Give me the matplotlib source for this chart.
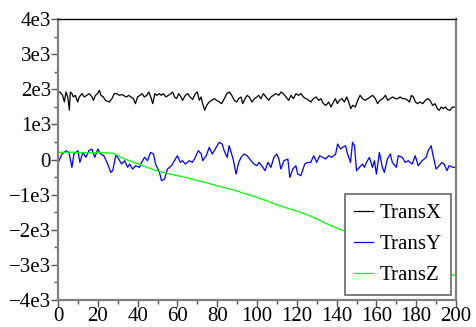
import numpy as np
import matplotlib
matplotlib.use('Agg')
import matplotlib.pyplot as plt
from matplotlib.ticker import FixedLocator, MultipleLocator

# TransX (black)
x_trans_x = [0, 1, 2.3, 3.2, 4, 4.9, 5.7, 6.2, 7, 7.7, 8.7, 9.9, 10.7, 12.1, 13.2, 14.4, 15.7,
             17.1, 17.8, 18.8, 19.9, 20.8, 21.6, 22.8, 23.8, 25.8, 27.1, 28.3, 29.5, 30.8, 32.2,
             33.3, 34.5, 35.5, 36.7, 37.9, 38.9, 40, 41.2, 42.2, 43.4, 44.6, 45.6, 46.6, 47.6,
             48.7, 49.7, 50.9, 51.9, 52.9, 54.3, 55.4, 56.8, 57.6, 58.6, 59.6, 60.6, 61.8, 62.6,
             64, 65.2, 66.3, 67.7, 69, 70, 71, 71.9, 72.7, 73.7, 74.7, 76, 77.2, 78.6, 79.7,
             81.1, 82.2, 83.6, 84.8, 86.1, 87.3, 88.6, 89.8, 90.8, 92, 92.8, 94, 95.1, 96.1,
             97.5, 98.7, 100, 100.8, 102, 103.2, 104.5, 105.9, 107, 108.2, 109.5, 110.9, 112.1,
             113.2, 114.6, 115.9, 117.1, 118.3, 119.6, 120.9, 122.1, 123.3, 124.6, 126, 127.1,
             128.3, 129.7, 131, 132.2, 133.3, 134.7, 136, 137.2, 138.4, 139.4, 140.4, 141.4,
             142.7, 143.9, 145.1, 146.1, 147.1, 148.1, 149.4, 150.6, 151.8, 153.1, 154.4, 155.6,
             156.8, 158.1, 159.5, 160.6, 161.8, 163.2, 164.5, 165.7, 166.8, 168.2, 169.5, 170.7,
             171.9, 173.2, 174.5, 175.7, 176.6, 177.6, 178.6, 179.6, 180.7, 181.9, 183.3, 184.6,
             185.8, 186.9, 188.3, 189.5, 190.6, 191.6, 192.6, 193.6, 194.6, 195.8, 197, 198.3, 200]
y_trans_x = [1920, 1920, 1827, 1637, 1922, 1780, 1400, 1922, 1875, 1780, 1827, 1637, 1780, 1875,
             1780, 1827, 1875, 1780, 1685, 1827, 1875, 1970, 1827, 1780, 1685, 1637, 1732, 1875,
             1875, 1827, 1850, 1810, 1780, 1827, 1780, 1732, 1590, 1780, 1827, 1875, 1780, 1827,
             1922, 1780, 1590, 1875, 1827, 1875, 1827, 1875, 1780, 1827, 1875, 1922, 1780, 1732,
             1875, 1780, 1685, 1827, 1875, 1780, 1710, 1875, 1922, 1685, 1780, 1590, 1400, 1542,
             1637, 1685, 1732, 1685, 1637, 1590, 1732, 1875, 1922, 1827, 1685, 1637, 1732, 1780,
             1590, 1732, 1827, 1780, 1637, 1732, 1780, 1827, 1732, 1875, 1780, 1685, 1780, 1827,
             1875, 1827, 1922, 1875, 1780, 1685, 1827, 1732, 1875, 1827, 1875, 1780, 1732, 1685,
             1637, 1732, 1780, 1685, 1732, 1590, 1542, 1637, 1495, 1637, 1732, 1590, 1685, 1732,
             1637, 1780, 1637, 1447, 1542, 1495, 1685, 1827, 1732, 1685, 1732, 1780, 1827, 1732,
             1590, 1685, 1732, 1827, 1685, 1732, 1780, 1732, 1732, 1780, 1732, 1732, 1685, 1637,
             1827, 1780, 1637, 1590, 1637, 1590, 1685, 1732, 1685, 1542, 1590, 1447, 1400, 1495,
             1447, 1495, 1420, 1400, 1495, 1480]

# TransY (blue)
x_trans_y = [0, 2, 4, 5.5, 7, 8, 10, 11, 12.5, 14, 15.5, 17, 18.5, 20, 21.5, 23, 25, 26.5, 27.5,
             29, 30, 32, 33.5, 35, 36, 37.5, 39, 41, 42, 43.5, 45, 46.5, 48, 49, 51, 52, 53.5,
             55, 57, 58.5, 60, 61.5, 62.5, 64, 66, 67.5, 69, 70.5, 72, 72.7, 74.5, 76, 77.5, 79,
             81, 82.5, 83.5, 85, 86, 88, 89.5, 90.8, 92, 93.5, 95, 97, 98.5, 100, 101, 103, 104,
             105.5, 107, 108.5, 110, 111, 112, 113.5, 115.5, 116.5, 118, 119.5, 120.5, 122, 124,
             125.5, 127, 128.5, 130, 131.5, 133, 134.5, 136, 137.5, 139.5, 140.5, 142, 143, 144.5,
             145.5, 147, 148, 149, 150, 151.5, 153, 154, 155, 156.5, 158, 159, 160, 161.5, 163,
             164, 165.5, 167, 168, 170, 171, 173, 174.5, 176, 178, 179.5, 181, 183, 185, 186,
             187.5, 188.5, 190, 191.5, 193, 194, 195.5, 196.5, 198.5, 200]
y_trans_y = [-100, 156, 251, 203, -224, 156, 251, -82, 203, 61, 251, 298, 61, 298, 156, 108, -129,
             -367, -319, 108, 61, -129, -34, -224, -129, -272, -177, -224, -82, 61, -34, 203, 156,
             -129, -367, -604, -557, -272, -177, -34, 108, -82, -34, -129, -34, -82, 61, 251, 156,
             -34, 108, 346, 156, 298, 488, 441, 251, 61, 393, 13, -414, -82, 61, 156, 108, -34,
             -129, -177, -82, -224, -319, -82, -224, 61, 156, 13, -272, -34, 13, -509, -272, -177,
             -414, -462, -129, -82, -82, 108, -82, 108, 61, 13, 108, 61, 156, 441, 298, 346, 393,
             156, -82, 488, 393, -319, -224, -129, -224, -82, 61, -224, -34, -414, 203, -224, -367,
             13, 156, -82, -224, 108, 61, -82, -34, -129, 108, -177, -34, 61, 251, 393, 108, -272,
             -177, -82, -129, -319, -177, -224, -224]

# TransZ (green)
x_trans_z = [0, 5, 10, 15, 20, 25, 28, 32, 36, 40, 45, 50, 55, 60, 65, 70, 75, 80, 85, 90, 95,
             100, 105, 110, 115, 120, 125, 130, 135, 140, 145, 150, 155, 160, 165, 170, 175, 180,
             185, 190, 195, 200]
y_trans_z = [200, 210, 200, 190, 200, 190, 170, 50, -40, -120, -230, -330, -400, -460, -520, -600,
             -670, -750, -820, -900, -990, -1080, -1180, -1290, -1380, -1470, -1570, -1690, -1830,
             -1950, -2060, -2180, -2300, -2420, -2540, -2670, -2780, -2900, -3010, -3110, -3210,
             -3320]

y_ticks = [-4000, -3000, -2000, -1000, 0, 1000, 2000, 3000, 4000]
y_tick_labels = ['\u22124e3', '\u22123e3', '\u22122e3', '\u22121e3', '0', '1e3', '2e3', '3e3', '4e3']
x_ticks = [0, 20, 40, 60, 80, 100, 120, 140, 160, 180, 200]

plt.rcParams['font.family'] = ['Liberation Serif', 'DejaVu Serif']
plt.rcParams['font.size'] = 15

fig = plt.figure(figsize=(4.76, 3.27), dpi=100)
ax = fig.add_axes([58 / 476, 1 - 300 / 327, 398 / 476, 281 / 327])

ax.plot(x_trans_x, y_trans_x, color='black', lw=0.9, label='TransX')
ax.plot(x_trans_y, y_trans_y, color='#0000ff', lw=0.9, label='TransY')
ax.plot(x_trans_z, y_trans_z, color='#00ff00', lw=0.9, label='TransZ')

ax.set_xlim(0, 200)
ax.set_ylim(-4000, 4000)
ax.yaxis.set_major_locator(FixedLocator(y_ticks))
ax.set_yticklabels(y_tick_labels)
ax.yaxis.set_minor_locator(MultipleLocator(500))
ax.xaxis.set_major_locator(FixedLocator(x_ticks))
ax.xaxis.set_minor_locator(MultipleLocator(10))

ax.tick_params(which='major', length=5, width=1, color='#555555', pad=0)
ax.tick_params(which='minor', length=3, width=1, color='#555555')

for side in ['left', 'bottom', 'right']:
    ax.spines[side].set_color('#808080')
    ax.spines[side].set_linewidth(1.6)
ax.spines['top'].set_color('black')
ax.spines['top'].set_linewidth(1.0)

leg = ax.legend(loc='lower right', fancybox=False, framealpha=1, edgecolor='#666666',
                borderaxespad=0.25, handlelength=0.9, handletextpad=0.3, labelspacing=0.55,
                borderpad=0.45)
leg.get_frame().set_linewidth(1.2)

fig.savefig('out.png', dpi=100)
